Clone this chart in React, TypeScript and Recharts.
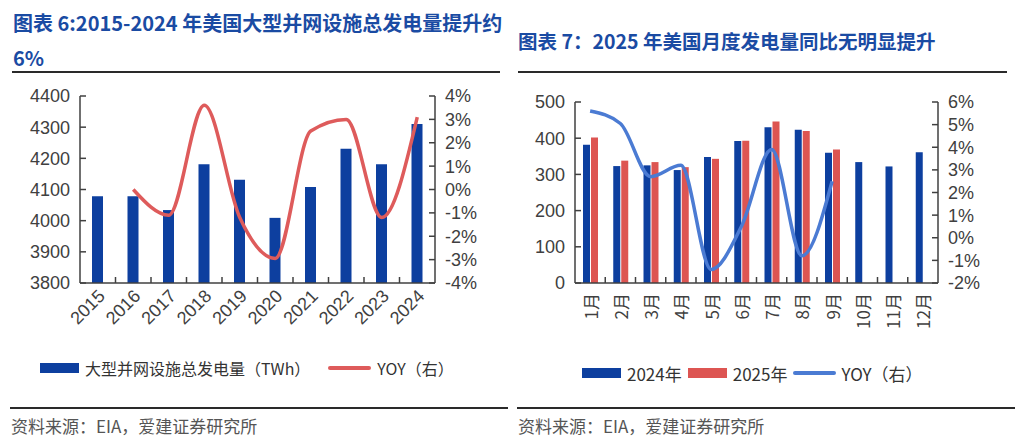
import { ComposedChart, Bar, Line, XAxis, YAxis } from "recharts";

// 图表6: 2015-2024 年度发电量 (TWh) 与同比
const years = ["2015", "2016", "2017", "2018", "2019", "2020", "2021", "2022", "2023", "2024"];
const annualGen = [4078, 4078, 4034, 4181, 4131, 4009, 4108, 4231, 4181, 4310];
const annualYoy = [null, 0, -1.1, 3.6, -1.2, -2.95, 2.5, 3.0, -1.2, 3.1];
const leftTicks = [3800, 3900, 4000, 4100, 4200, 4300, 4400];
const leftPctTicks = [-4, -3, -2, -1, 0, 1, 2, 3, 4];

// 图表7: 月度发电量
const months = ["1月", "2月", "3月", "4月", "5月", "6月", "7月", "8月", "9月", "10月", "11月", "12月"];
const gen2024 = [382, 323, 325, 312, 348, 392, 430, 423, 360, 334, 322, 361];
const gen2025 = [402, 338, 334, 320, 343, 393, 446, 420, 369, null, null, null];
const monthYoy = [5.6, 5.05, 2.7, 3.2, -1.4, 0.5, 3.9, -0.8, 2.5, null, null, null];
const rightTicks = [0, 100, 200, 300, 400, 500];
const rightPctTicks = [-2, -1, 0, 1, 2, 3, 4, 5, 6];

const annualData = years.map((y, i) => ({ year: y, gen: annualGen[i], yoy: annualYoy[i] }));
const monthData = months.map((m, i) => ({ month: m, a: gen2024[i], b: gen2025[i], yoy: monthYoy[i] }));

const FONT = '"Noto Sans CJK SC", "Noto Sans", sans-serif';
const NUM_FONT = '"Liberation Sans", Arial, sans-serif';
const BLUE = "#0d3f9f";
const RED = "#dd5552";
const LINE_RED = "#de5b5b";
const LINE_BLUE = "#4b7bd3";
const AXIS = "#404040";
const TITLE = "#1a4ba3";
const TICK_FONT = 18;

const BAND1 = (435 - 80) / years.length;
const BAND2 = (938 - 575) / months.length;

const YearTick = (props: any) => {
  const { x, y, payload, index } = props;
  return (
    <g>
      {index > 0 && <line x1={x - BAND1 / 2} x2={x - BAND1 / 2} y1={y} y2={y - 6} stroke={AXIS} strokeWidth={1.5} />}
      <text
        transform={`translate(${x + 4},${y + 10}) rotate(-45)`}
        textAnchor="end"
        dominantBaseline="central"
        fontSize={TICK_FONT}
        fill={AXIS}
        fontFamily={NUM_FONT}
      >
        {payload.value}
      </text>
    </g>
  );
};

const MonthTick = (props: any) => {
  const { x, y, payload, index } = props;
  return (
    <g>
      {index > 0 && <line x1={x - BAND2 / 2} x2={x - BAND2 / 2} y1={y} y2={y - 6} stroke={AXIS} strokeWidth={1.5} />}
      <text
        transform={`translate(${x},${y + 10}) rotate(-90)`}
        textAnchor="end"
        dominantBaseline="central"
        fontSize={17}
        fill={AXIS}
        fontFamily={FONT}
      >
        {payload.value}
      </text>
    </g>
  );
};

const axisProps = {
  stroke: AXIS,
  strokeWidth: 1.5,
  tick: { fill: AXIS, fontSize: TICK_FONT, fontFamily: NUM_FONT },
  tickSize: -6,
  tickMargin: 16,
  interval: 0 as const,
};

const Swatch = ({ color, line }: { color: string; line?: boolean }) => (
  <span
    style={{
      display: "inline-block",
      width: line ? 43 : 39,
      height: line ? 3.5 : 10,
      background: color,
      marginRight: 6,
      borderRadius: line ? 2 : 0,
    }}
  />
);

export default function App() {
  return (
    <div
      style={{
        position: "absolute",
        left: 0,
        top: 0,
        width: 1027,
        height: 441,
        background: "#fff",
        overflow: "hidden",
        fontFamily: FONT,
      }}
    >
      {/* titles */}
      <div style={{ position: "absolute", left: 13, top: 5, fontSize: 20, fontWeight: 700, color: TITLE, lineHeight: "35px", whiteSpace: "nowrap" }}>
        图表 6:2015-2024 年美国大型并网设施总发电量提升约
        <br />
        6%
      </div>
      <div style={{ position: "absolute", left: 518, top: 23, fontSize: 19.5, fontWeight: 700, color: TITLE, lineHeight: "35px", whiteSpace: "nowrap" }}>
        图表 7：2025 年美国月度发电量同比无明显提升
      </div>
      <div style={{ position: "absolute", left: 12, top: 71, width: 488, height: 2, background: "#2a2a2a" }} />
      <div style={{ position: "absolute", left: 518, top: 71, width: 489, height: 2, background: "#2a2a2a" }} />

      {/* left chart */}
      <div style={{ position: "absolute", left: 0, top: 80 }}>
        <ComposedChart width={510} height={260} data={annualData} margin={{ top: 16, right: 15, bottom: 0, left: 0 }}>
          <XAxis dataKey="year" stroke={AXIS} strokeWidth={1.5} tickLine={false} tickSize={0} tickMargin={0} tick={<YearTick />} height={57} interval={0} />
          <YAxis yAxisId="l" width={80} domain={[3800, 4400]} ticks={leftTicks} {...axisProps} />
          <YAxis yAxisId="r" orientation="right" width={60} domain={[-4, 4]} ticks={leftPctTicks} tickFormatter={(v) => `${v}%`} {...axisProps} />
          <Bar yAxisId="l" dataKey="gen" fill={BLUE} barSize={11} isAnimationActive={false} />
          <Line yAxisId="r" dataKey="yoy" type="monotone" stroke={LINE_RED} strokeWidth={3.5} dot={false} isAnimationActive={false} />
        </ComposedChart>
      </div>

      {/* right chart */}
      <div style={{ position: "absolute", left: 510, top: 80 }}>
        <ComposedChart width={517} height={260} data={monthData} margin={{ top: 22, right: 29, bottom: 0, left: 0 }} barGap={1}>
          <XAxis dataKey="month" stroke={AXIS} strokeWidth={1.5} tickLine={false} tickSize={0} tickMargin={0} tick={<MonthTick />} height={57} interval={0} />
          <YAxis yAxisId="l" width={65} domain={[0, 500]} ticks={rightTicks} {...axisProps} />
          <YAxis yAxisId="r" orientation="right" width={60} domain={[-2, 6]} ticks={rightPctTicks} tickFormatter={(v) => `${v}%`} {...axisProps} />
          <Bar yAxisId="l" dataKey="a" fill={BLUE} barSize={7} isAnimationActive={false} />
          <Bar yAxisId="l" dataKey="b" fill={RED} barSize={7} isAnimationActive={false} />
          <Line yAxisId="r" dataKey="yoy" type="monotone" stroke={LINE_BLUE} strokeWidth={3.5} dot={false} isAnimationActive={false} />
        </ComposedChart>
      </div>

      {/* legends */}
      <div style={{ position: "absolute", left: 40, top: 356, height: 24, display: "flex", alignItems: "center", fontSize: 16, color: "#333", whiteSpace: "nowrap" }}>
        <Swatch color={BLUE} />
        <span>大型并网设施总发电量（TWh）</span>
        <span style={{ width: 18 }} />
        <Swatch color={LINE_RED} line />
        <span>YOY（右）</span>
      </div>
      <div style={{ position: "absolute", left: 582, top: 361, height: 24, display: "flex", alignItems: "center", fontSize: 17, color: "#333", whiteSpace: "nowrap" }}>
        <Swatch color={BLUE} />
        <span>2024年</span>
        <span style={{ width: 6 }} />
        <Swatch color={RED} />
        <span>2025年</span>
        <span style={{ width: 5 }} />
        <Swatch color={LINE_BLUE} line />
        <span>YOY（右）</span>
      </div>

      {/* sources */}
      <div style={{ position: "absolute", left: 10, top: 407, width: 498, height: 2, background: "#2a2a2a" }} />
      <div style={{ position: "absolute", left: 517, top: 407, width: 498, height: 2, background: "#2a2a2a" }} />
      <div style={{ position: "absolute", left: 11, top: 413, fontSize: 17, color: "#555" }}>资料来源：EIA，爱建证券研究所</div>
      <div style={{ position: "absolute", left: 518, top: 413, fontSize: 17, color: "#555" }}>资料来源：EIA，爱建证券研究所</div>
    </div>
  );
}
